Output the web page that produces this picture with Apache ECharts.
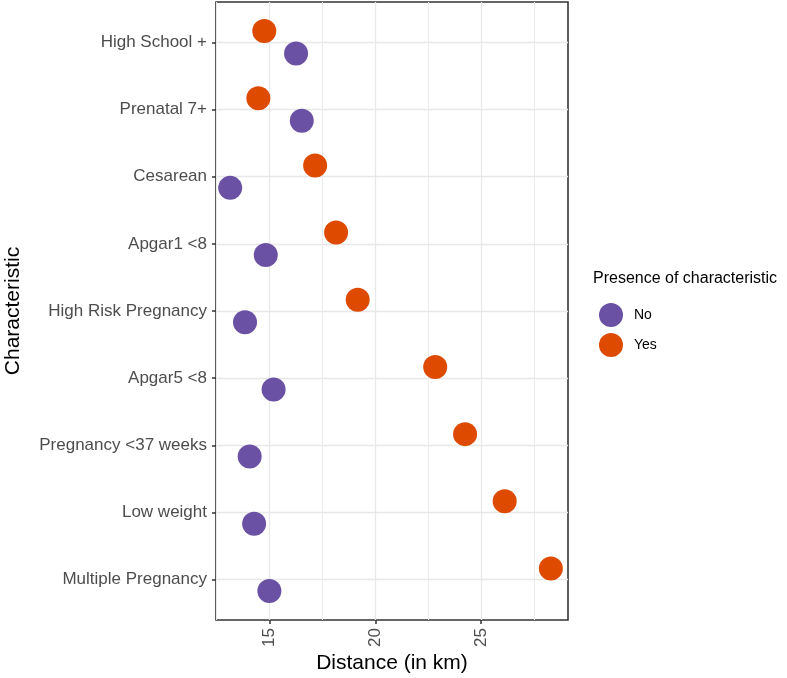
<!DOCTYPE html>
<html>
<head>
<meta charset="utf-8">
<script src="https://cdn.jsdelivr.net/npm/echarts@6/dist/echarts.min.js"></script>
<style>
html,body{margin:0;padding:0;background:#fff;}
#chart{width:787px;height:678px;}
</style>
</head>
<body>
<div id="chart"></div>
<script>
const categories = ['High School +','Prenatal 7+','Cesarean','Apgar1 <8','High Risk Pregnancy','Apgar5 <8','Pregnancy <37 weeks','Low weight','Multiple Pregnancy'];
const yesValues = [14.76, 14.48, 17.16, 18.15, 19.17, 22.83, 24.24, 26.11, 28.29];
const noValues  = [16.26, 16.53, 13.15, 14.83, 13.85, 15.20, 14.07, 14.28, 15.00];
const xTicks = [15, 20, 25];
const xMinorTicks = [12.5, 17.5, 22.5, 27.5];
const seriesNames = ['No', 'Yes'];

const FONT = 'Liberation Sans, Arial, sans-serif';
const DODGE = 0.167;
const yPositions = categories.map((c, i) => i + 1);

const chart = echarts.init(document.getElementById('chart'), null, {renderer: 'canvas'});
const xMin = 12.48, xMax = 29.1;
const yMin = 0.4, yMax = 9.6;

chart.setOption({
  animation: false,
  backgroundColor: '#ffffff',
  grid: {left: 216, right: 219, top: 2, bottom: 58, show: true, borderColor: '#333333', borderWidth: 1.6, backgroundColor: '#ffffff', containLabel: false},
  xAxis: [{
    type: 'value', min: xMin, max: xMax, position: 'bottom',
    axisLine: {show: false},
    axisTick: {show: true, length: 4, customValues: xTicks, lineStyle: {color: '#333333', width: 1.5}},
    axisLabel: {show: true, customValues: xTicks, rotate: 90, margin: 8, color: '#4d4d4d', fontSize: 17, fontFamily: FONT},
    splitLine: {show: true, lineStyle: {color: '#e8e8e8', width: 1.3}}
  }, {
    type: 'value', min: xMin, max: xMax, position: 'top',
    axisLine: {show: false},
    axisTick: {show: false, customValues: xMinorTicks},
    axisLabel: {show: false, customValues: xMinorTicks},
    splitLine: {show: true, lineStyle: {color: '#ebebeb', width: 1}}
  }],
  yAxis: [{
    type: 'value', min: yMin, max: yMax, inverse: true,
    axisLine: {show: false},
    axisTick: {show: true, length: 4, customValues: yPositions, lineStyle: {color: '#333333', width: 1.5}},
    axisLabel: {show: true, customValues: yPositions, margin: 9, color: '#4d4d4d', fontSize: 17, fontFamily: FONT,
      formatter: v => categories[Math.round(v) - 1] || ''},
    splitLine: {show: true, lineStyle: {color: '#e8e8e8', width: 1.3}}
  }],
  legend: {
    orient: 'vertical', left: 594, top: 298,
    data: seriesNames,
    icon: 'circle', itemWidth: 24, itemHeight: 24, itemGap: 6,
    textStyle: {color: '#000000', fontSize: 14, fontFamily: FONT, padding: [0, 0, 0, 6]}
  },
  graphic: [
    {type: 'text', left: 593, top: 271, style: {text: 'Presence of characteristic', fontSize: 16, fontFamily: FONT, fill: '#000000'}},
    {type: 'text', x: 392, y: 663, style: {text: 'Distance (in km)', fontSize: 21, fontFamily: FONT, fill: '#000000', align: 'center', verticalAlign: 'middle'}},
    {type: 'text', x: 13, y: 311, rotation: Math.PI / 2, style: {text: 'Characteristic', fontSize: 21, fontFamily: FONT, fill: '#000000', align: 'center', verticalAlign: 'middle'}}
  ],
  series: [{
    name: 'No', type: 'scatter', symbol: 'circle', symbolSize: 24,
    itemStyle: {color: '#6a51a3', opacity: 1},
    data: noValues.map((v, i) => [v, yPositions[i] + DODGE])
  }, {
    name: 'Yes', type: 'scatter', symbol: 'circle', symbolSize: 24,
    itemStyle: {color: '#dd4a00', opacity: 1},
    data: yesValues.map((v, i) => [v, yPositions[i] - DODGE])
  }]
});
</script>
</body>
</html>
